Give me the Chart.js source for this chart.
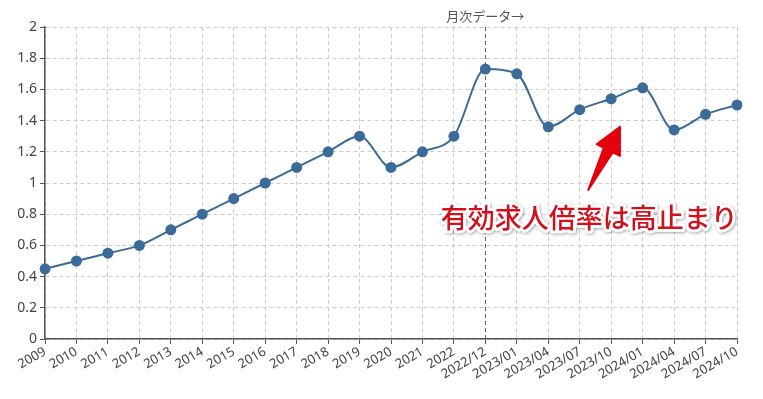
<!DOCTYPE html>
<html>
<head>
<meta charset="utf-8">
<script src="https://cdn.jsdelivr.net/npm/chart.js@4"></script>
<style>
  html, body { margin: 0; padding: 0; background: #fff; }
  #wrap { width: 763px; height: 399px; position: relative; }
</style>
</head>
<body>
<div id="wrap"><canvas id="ratioChart"></canvas></div>
<script>
// Job openings-to-applicants ratio (annual, then monthly from 2022/12)
const labels = ['2009', '2010', '2011', '2012', '2013', '2014', '2015', '2016', '2017', '2018',
    '2019', '2020', '2021', '2022', '2022/12', '2023/01', '2023/04', '2023/07', '2023/10',
    '2024/01', '2024/04', '2024/07', '2024/10'];
const ratios = [0.45, 0.5, 0.55, 0.6, 0.7, 0.8, 0.9, 1.0, 1.1, 1.2,
    1.3, 1.1, 1.2, 1.3, 1.73, 1.7, 1.36, 1.47, 1.54,
    1.61, 1.34, 1.44, 1.5];
const yTicks = [0, 0.2, 0.4, 0.6, 0.8, 1, 1.2, 1.4, 1.6, 1.8, 2];

const monthlyStart = labels.indexOf('2022/12');
const monthlyNote = '月次データ→';
const calloutText = '有効求人倍率は高止まり';

const lineColor = '#3b6b98';
const jpFont = '"Noto Sans CJK JP", "Noto Sans", sans-serif';
const tickFont = '"Noto Sans", "Noto Sans CJK JP", sans-serif';

// Draw the "monthly data" caption, the red arrow and the callout text
const annotations = {
    id: 'annotations',
    afterDatasetsDraw(chart) {
        const { ctx, scales: { x, y }, chartArea } = chart;
        ctx.save();

        // caption above the dashed line
        ctx.font = '13px ' + jpFont;
        ctx.fillStyle = '#555';
        ctx.textAlign = 'center';
        ctx.textBaseline = 'bottom';
        ctx.fillText(monthlyNote, x.getPixelForValue(monthlyStart), chartArea.top - 4);

        // tapered red arrow
        const tx = x.getPixelForValue(17.27), ty = y.getPixelForValue(0.955);
        const hx = x.getPixelForValue(18.28), hy = y.getPixelForValue(1.36);
        const dx = hx - tx, dy = hy - ty;
        const len = Math.hypot(dx, dy);
        const ux = dx / len, uy = dy / len;
        const nx = -uy, ny = ux;
        const headLen = 26, shaftW = 5, headW = 13;
        const bx = hx - ux * headLen, by = hy - uy * headLen;
        ctx.fillStyle = '#e3000f';
        ctx.strokeStyle = '#e3000f';
        ctx.lineJoin = 'round';
        ctx.lineWidth = 2;
        ctx.beginPath();
        ctx.moveTo(tx, ty);
        ctx.lineTo(bx + nx * shaftW, by + ny * shaftW);
        ctx.lineTo(bx + nx * headW, by + ny * headW);
        ctx.lineTo(hx, hy);
        ctx.lineTo(bx - nx * headW, by - ny * headW);
        ctx.lineTo(bx - nx * shaftW, by - ny * shaftW);
        ctx.closePath();
        ctx.fill();
        ctx.stroke();

        // callout text with white outline and soft shadow
        const cx = x.getPixelForValue(17.3), cy = y.getPixelForValue(0.776);
        ctx.font = '500 27px ' + jpFont;
        ctx.textAlign = 'center';
        ctx.textBaseline = 'middle';
        ctx.lineJoin = 'round';
        ctx.shadowColor = 'rgba(0,0,0,0.35)';
        ctx.shadowBlur = 3;
        ctx.shadowOffsetX = 1;
        ctx.shadowOffsetY = 1;
        ctx.strokeStyle = '#fff';
        ctx.lineWidth = 6;
        ctx.strokeText(calloutText, cx, cy);
        ctx.shadowColor = 'transparent';
        ctx.fillStyle = '#d2101c';
        ctx.fillText(calloutText, cx, cy);
        ctx.restore();
    }
};

const ctx = document.getElementById('ratioChart').getContext('2d');
const ratioChart = new Chart(ctx, {
    type: 'line',
    data: {
        labels: labels,
        datasets: [{
            label: '有効求人倍率',
            data: ratios,
            borderColor: lineColor,
            backgroundColor: lineColor,
            borderWidth: 2,
            pointRadius: 5.5,
            pointHoverRadius: 5.5,
            pointBorderWidth: 0,
            cubicInterpolationMode: 'monotone',
            fill: false
        }]
    },
    options: {
        responsive: true,
        maintainAspectRatio: false,
        animation: false,
        layout: { padding: { top: 27, right: 26, left: 0, bottom: 0 } },
        plugins: {
            legend: { display: false },
            tooltip: { enabled: false }
        },
        scales: {
            x: {
                offset: false,
                afterFit: (scale) => { scale.height = 60; },
                grid: {
                    color: (c) => c.index === monthlyStart ? '#666' : '#ccc',
                    lineWidth: 1,
                    tickLength: 5,
                    tickColor: '#555'
                },
                border: { color: '#555', width: 1.5, dash: [4, 3] },
                ticks: {
                    autoSkip: false,
                    maxRotation: 30,
                    minRotation: 30,
                    padding: 0,
                    color: '#444',
                    font: { family: tickFont, size: 13 }
                }
            },
            y: {
                min: 0,
                max: 2,
                afterFit: (scale) => { scale.width = 45; },
                afterBuildTicks: (scale) => { scale.ticks = yTicks.map(v => ({ value: v })); },
                grid: {
                    color: '#ccc',
                    lineWidth: 1,
                    tickLength: 5,
                    tickColor: '#555'
                },
                border: { color: '#555', width: 1.5, dash: [4, 3] },
                ticks: {
                    padding: 3,
                    color: '#444',
                    font: { family: tickFont, size: 14 },
                    callback: (v) => String(v)
                }
            }
        }
    },
    plugins: [annotations]
});
</script>
</body>
</html>
